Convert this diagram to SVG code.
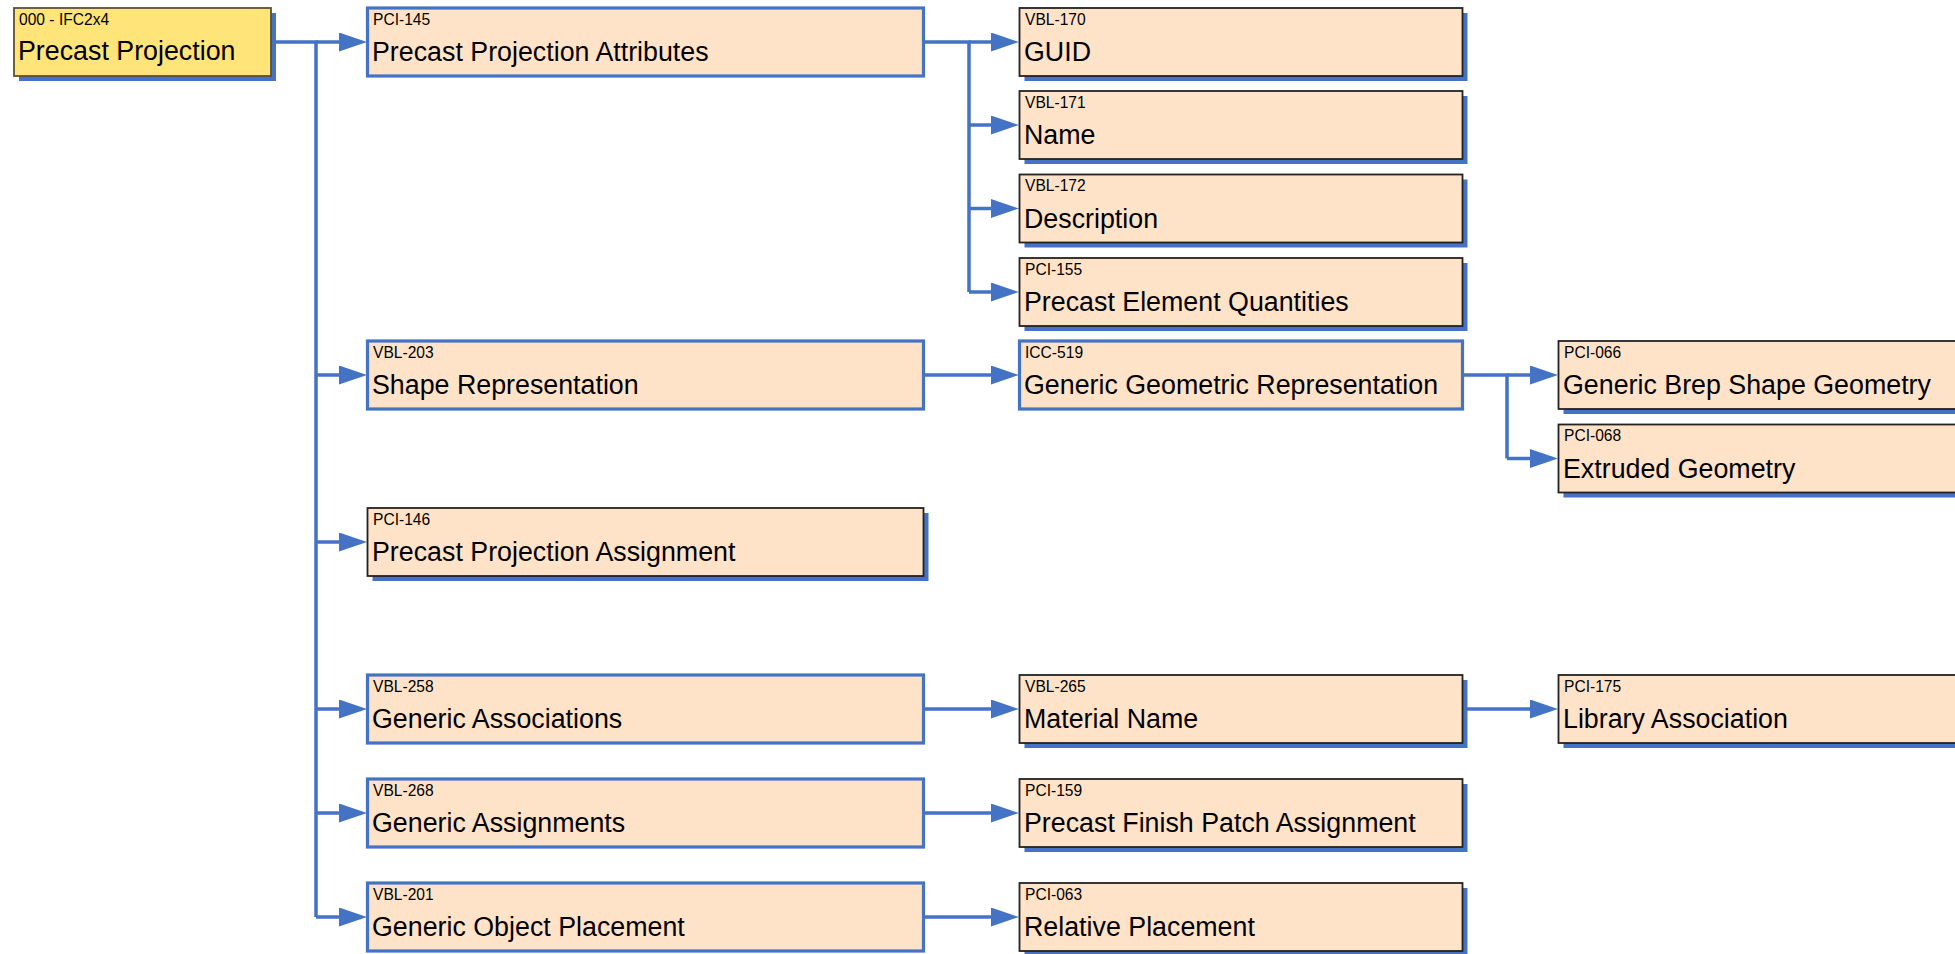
<svg xmlns="http://www.w3.org/2000/svg" width="1955" height="954" viewBox="0 0 1955 954">
<style>
  .bg{fill:#ffffff}
  .shadow{fill:#4472C4}
  .leaf{fill:#FFE3C8;stroke:#222222;stroke-width:1.8}
  .parent{fill:#FFE3C8;stroke:#4472C4;stroke-width:3.2}
  .root{fill:#FFE47A;stroke:#5A5236;stroke-width:1.8}
  .code{font-family:"Liberation Sans",Arial,sans-serif;font-size:15.6px;fill:#000}
  .name{font-family:"Liberation Sans",Arial,sans-serif;font-size:26.8px;fill:#000}
  .conn{fill:none;stroke:#4472C4;stroke-width:3.5;marker-end:url(#arr)}
  .line{fill:none;stroke:#4472C4;stroke-width:3.5}
</style>
<defs>
  <marker id="arr" markerUnits="userSpaceOnUse" markerWidth="30" markerHeight="20" refX="2" refY="9.5" orient="auto">
    <path d="M0,0 L28,9.5 L0,19 Z" fill="#4472C4"/>
  </marker>
</defs>
<rect class="bg" x="0" y="0" width="1955" height="954"/>

<g id="connectors">
  <path class="line" d="M271,42 H316 V917"/>
  <path class="conn" d="M316,42 H341"/>
  <path class="conn" d="M316,375 H341"/>
  <path class="conn" d="M316,542 H341"/>
  <path class="conn" d="M316,709 H341"/>
  <path class="conn" d="M316,813 H341"/>
  <path class="conn" d="M316,917 H341"/>

  <path class="line" d="M924,42 H969 V292"/>
  <path class="conn" d="M969,42 H993"/>
  <path class="conn" d="M969,125 H993"/>
  <path class="conn" d="M969,208.5 H993"/>
  <path class="conn" d="M969,292 H993"/>

  <path class="conn" d="M924,375 H993"/>
  <path class="line" d="M1463,375 H1507 V458.5"/>
  <path class="conn" d="M1507,375 H1532"/>
  <path class="conn" d="M1507,458.5 H1532"/>

  <path class="conn" d="M924,709 H993"/>
  <path class="conn" d="M1463,709 H1532"/>
  <path class="conn" d="M924,813 H993"/>
  <path class="conn" d="M924,917 H993"/>
</g>

<g id="n000">
  <rect class="shadow" x="19" y="13" width="257" height="68"/>
  <rect class="root" x="14" y="8" width="257" height="68"/>
  <text class="code" x="19" y="24.5">000 - IFC2x4</text>
  <text class="name" x="18" y="60">Precast Projection</text>
</g>

<g id="pci145">
  <rect class="parent" x="367.5" y="8" width="556" height="68"/>
  <text class="code" x="373" y="24.5">PCI-145</text>
  <text class="name" x="372" y="61">Precast Projection Attributes</text>
</g>
<g id="vbl203">
  <rect class="parent" x="367.5" y="341" width="556" height="68"/>
  <text class="code" x="373" y="357.5">VBL-203</text>
  <text class="name" x="372" y="394">Shape Representation</text>
</g>
<g id="pci146">
  <rect class="shadow" x="372.5" y="513" width="556" height="68"/>
  <rect class="leaf" x="367.5" y="508" width="556" height="68"/>
  <text class="code" x="373" y="524.5">PCI-146</text>
  <text class="name" x="372" y="561">Precast Projection Assignment</text>
</g>
<g id="vbl258">
  <rect class="parent" x="367.5" y="675" width="556" height="68"/>
  <text class="code" x="373" y="691.5">VBL-258</text>
  <text class="name" x="372" y="728">Generic Associations</text>
</g>
<g id="vbl268">
  <rect class="parent" x="367.5" y="779" width="556" height="68"/>
  <text class="code" x="373" y="795.5">VBL-268</text>
  <text class="name" x="372" y="832">Generic Assignments</text>
</g>
<g id="vbl201">
  <rect class="parent" x="367.5" y="883" width="556" height="68"/>
  <text class="code" x="373" y="899.5">VBL-201</text>
  <text class="name" x="372" y="936">Generic Object Placement</text>
</g>

<g id="vbl170">
  <rect class="shadow" x="1024.5" y="13" width="443" height="68"/>
  <rect class="leaf" x="1019.5" y="8" width="443" height="68"/>
  <text class="code" x="1025" y="24.5">VBL-170</text>
  <text class="name" x="1024" y="61">GUID</text>
</g>
<g id="vbl171">
  <rect class="shadow" x="1024.5" y="96" width="443" height="68"/>
  <rect class="leaf" x="1019.5" y="91" width="443" height="68"/>
  <text class="code" x="1025" y="107.5">VBL-171</text>
  <text class="name" x="1024" y="144">Name</text>
</g>
<g id="vbl172">
  <rect class="shadow" x="1024.5" y="179.5" width="443" height="68"/>
  <rect class="leaf" x="1019.5" y="174.5" width="443" height="68"/>
  <text class="code" x="1025" y="191">VBL-172</text>
  <text class="name" x="1024" y="227.5">Description</text>
</g>
<g id="pci155">
  <rect class="shadow" x="1024.5" y="263" width="443" height="68"/>
  <rect class="leaf" x="1019.5" y="258" width="443" height="68"/>
  <text class="code" x="1025" y="274.5">PCI-155</text>
  <text class="name" x="1024" y="311">Precast Element Quantities</text>
</g>
<g id="icc519">
  <rect class="parent" x="1019.5" y="341" width="443" height="68"/>
  <text class="code" x="1025" y="357.5">ICC-519</text>
  <text class="name" x="1024" y="394">Generic Geometric Representation</text>
</g>
<g id="vbl265">
  <rect class="shadow" x="1024.5" y="680" width="443" height="68"/>
  <rect class="leaf" x="1019.5" y="675" width="443" height="68"/>
  <text class="code" x="1025" y="691.5">VBL-265</text>
  <text class="name" x="1024" y="728">Material Name</text>
</g>
<g id="pci159">
  <rect class="shadow" x="1024.5" y="784" width="443" height="68"/>
  <rect class="leaf" x="1019.5" y="779" width="443" height="68"/>
  <text class="code" x="1025" y="795.5">PCI-159</text>
  <text class="name" x="1024" y="832">Precast Finish Patch Assignment</text>
</g>
<g id="pci063">
  <rect class="shadow" x="1024.5" y="888" width="443" height="68"/>
  <rect class="leaf" x="1019.5" y="883" width="443" height="68"/>
  <text class="code" x="1025" y="899.5">PCI-063</text>
  <text class="name" x="1024" y="936">Relative Placement</text>
</g>

<g id="pci066">
  <rect class="shadow" x="1563.5" y="346" width="450" height="68"/>
  <rect class="leaf" x="1558.5" y="341" width="450" height="68"/>
  <text class="code" x="1564" y="357.5">PCI-066</text>
  <text class="name" x="1563" y="394">Generic Brep Shape Geometry</text>
</g>
<g id="pci068">
  <rect class="shadow" x="1563.5" y="429.5" width="450" height="68"/>
  <rect class="leaf" x="1558.5" y="424.5" width="450" height="68"/>
  <text class="code" x="1564" y="441">PCI-068</text>
  <text class="name" x="1563" y="477.5">Extruded Geometry</text>
</g>
<g id="pci175">
  <rect class="shadow" x="1563.5" y="680" width="450" height="68"/>
  <rect class="leaf" x="1558.5" y="675" width="450" height="68"/>
  <text class="code" x="1564" y="691.5">PCI-175</text>
  <text class="name" x="1563" y="728">Library Association</text>
</g>
</svg>
